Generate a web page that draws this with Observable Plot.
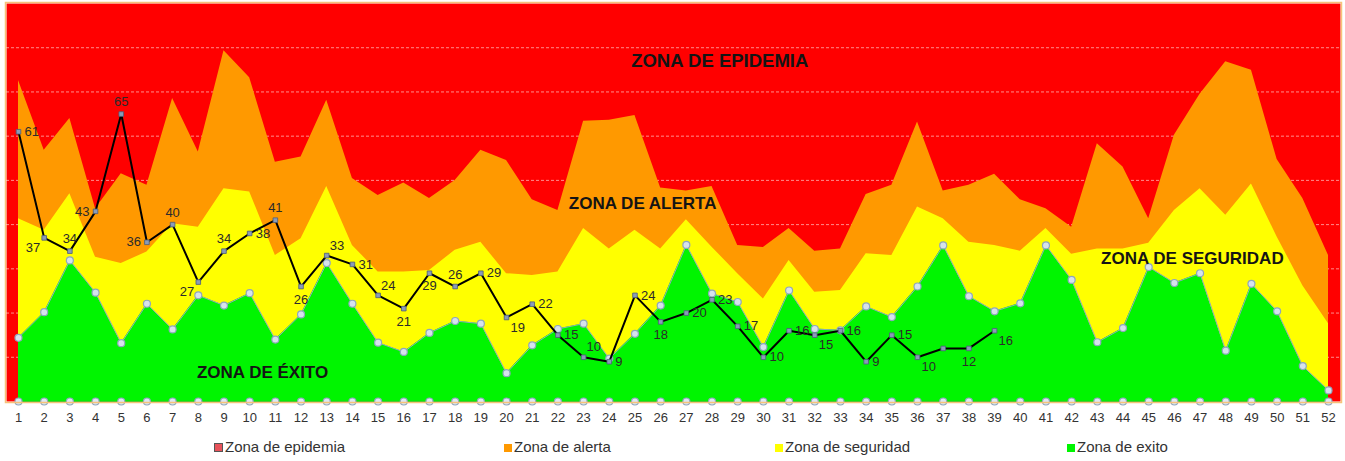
<!DOCTYPE html>
<html>
<head>
<meta charset="utf-8">
<script src="https://cdn.jsdelivr.net/npm/d3@7"></script>
<script src="https://cdn.jsdelivr.net/npm/@observablehq/plot@0.6"></script>
<style>
  html, body { margin: 0; padding: 0; background: #fff; }
  #wrap { position: relative; width: 1345px; height: 461px; font-family: Arial, "Liberation Sans", sans-serif; }
  #legend { position: absolute; left: 0; top: 436px; width: 1345px; height: 22px; font-size: 15px; color: #333; }
  .li { position: absolute; top: 0; line-height: 22px; white-space: nowrap; }
  .sw { display: inline-block; width: 8px; height: 8px; margin-right: 2px; vertical-align: 0px; }
</style>
</head>
<body>
<div id="wrap"><div id="chart"></div><div id="legend"></div></div>
<script>
// ---- data ----
const weeks = [1,2,3,4,5,6,7,8,9,10,11,12,13,14,15,16,17,18,19,20,21,22,23,24,25,26,
               27,28,29,30,31,32,33,34,35,36,37,38,39,40,41,42,43,44,45,46,47,48,49,50,51,52];
// upper limit of each zone (cases)
const zonaExito = [14.4,20.2,31.9,24.6,13.2,22.1,16.3,24.0,21.7,24.5,
                   14.0,19.7,31.3,22.1,13.3,11.2,15.5,18.2,17.6,6.4,
                   12.7,16.4,17.6,9.7,15.3,21.7,35.4,24.4,22.5,12.3,
                   25.1,16.4,16.1,21.5,19.1,26.0,35.3,23.8,20.4,22.2,
                   35.3,27.5,13.4,16.6,30.4,26.8,29.0,11.5,26.6,20.4,
                   8.0,2.5];
const zonaSeguridad = [41.3,38.7,47.0,32.6,31.2,33.8,40.2,39.4,48.1,47.4,
                       33.0,36.8,48.6,35.3,29.3,29.3,29.6,34.2,36.0,28.9,
                       28.5,29.3,39.1,34.5,38.7,34.5,41.1,34.9,28.9,23.2,
                       31.9,24.7,25.1,33.4,33.0,44.0,41.3,36.0,35.3,34.0,
                       39.1,33.3,34.5,34.5,35.8,43.2,48.1,42.1,49.2,37.2,
                       26.2,17.6];
const zonaAlerta = [72.6,56.8,64.0,43.6,51.5,48.9,68.5,56.4,79.3,73.2,
                    54.1,55.3,68.1,50.4,46.6,49.4,45.9,50.0,56.8,54.5,
                    45.6,43.2,63.4,63.6,64.7,48.3,47.6,48.6,35.3,34.8,
                    39.1,34.0,34.5,46.8,48.9,63.2,47.6,48.9,51.4,45.6,
                    43.6,39.4,58.3,53.0,41.3,60.2,69.5,76.8,74.9,54.7,
                    45.9,33.0];
// observed cases, weeks 1-39
const casos = [61,37,34,43,65,36,40,27,34,38,41,26,33,31,24,21,29,26,29,19,
               22,15,10,9,24,18,20,23,17,10,16,15,16,9,15,10,12,12,16];
// where each value label sits relative to its point
const labelSide = ["R","BL","A","L","A","L","A","BL","A","R","A","B","AR","R","AR","B","B","A","R","BR",
                   "R","R","AR","R","R","B","R","R","R","R","R","BR","R","R","R","BR","","B","BR"];
const gridValues = [10,20,30,40,50,60,70,80];
const zoneNames = ["ZONA DE EPIDEMIA","ZONA DE ALERTA","ZONA DE SEGURIDAD","ZONA DE ÉXITO"];
const zoneWeek  = [28.3, 25.3, 46.7, 10.5];
const zoneValue = [76.9, 44.8, 32.4, 6.6];
const legendNames = ["Zona de epidemia","Zona de alerta","Zona de seguridad","Zona de exito"];

// ---- tables ----
const zones = weeks.map((w,i) => ({week: w, exito: zonaExito[i], seguridad: zonaSeguridad[i], alerta: zonaAlerta[i]}));
const obs = casos.map((v,i) => ({week: weeks[i], value: v, side: labelSide[i]}));
const zoneLabels = zoneNames.map((t,i) => ({text: t, week: zoneWeek[i], value: zoneValue[i], main: i === 0}));

const sideOpts = {
  R:  {textAnchor: "start",  dx: 6,  dy: 0},
  L:  {textAnchor: "end",    dx: -6, dy: 0},
  A:  {textAnchor: "middle", dx: 0,  dy: -12},
  B:  {textAnchor: "middle", dx: 0,  dy: 13},
  AR: {textAnchor: "start",  dx: 3,  dy: -10},
  BR: {textAnchor: "start",  dx: 4,  dy: 10},
  BL: {textAnchor: "end",    dx: -4, dy: 10}
};

const FONT = "Arial, 'Liberation Sans', sans-serif";
const RED = "#ff0000", ORANGE = "#ff9900", YELLOW = "#ffff00", GREEN = "#00f500";

const labelMarks = Object.keys(sideOpts).map(k =>
  Plot.text(obs.filter(d => d.side === k), {
    x: "week", y: "value", text: d => String(d.value),
    fill: "#2b2b2b", fontSize: 13, fontFamily: FONT,
    ...sideOpts[k]
  })
);

const chart = Plot.plot({
  width: 1345,
  height: 432,
  marginLeft: 6,
  marginRight: 5,
  marginTop: 3,
  marginBottom: 31,
  style: {background: "#fff", fontFamily: FONT},
  x: {domain: [0.533, 52.467], axis: null, label: null},
  y: {domain: [0, 90], axis: null, label: null},
  marks: [
    Plot.frame({fill: RED, stroke: null}),
    Plot.ruleY(gridValues, {stroke: "#ffffff", strokeOpacity: 0.55, strokeDasharray: "3,2", strokeWidth: 1}),
    Plot.areaY(zones, {x: "week", y1: 0, y2: "alerta", fill: ORANGE, curve: "linear"}),
    Plot.areaY(zones, {x: "week", y1: 0, y2: "seguridad", fill: YELLOW, curve: "linear"}),
    Plot.areaY(zones, {x: "week", y1: 0, y2: "exito", fill: GREEN, curve: "linear"}),
    Plot.lineY(zones, {x: "week", y: "exito", stroke: "#93a9bf", strokeWidth: 1}),
    Plot.ruleY([0], {x1: 1, x2: 52, stroke: "#22c522", strokeWidth: 1.5}),
    Plot.dot(zones, {x: "week", y: "exito", r: 3.5, stroke: "#8fa6bd", strokeWidth: 1.2, fill: "#d6e2ec"}),
    Plot.dot(zones, {x: "week", y: 0, r: 3.5, stroke: "#8fa6bd", strokeWidth: 1.2, fill: "#dde7f0"}),
    Plot.text(zoneLabels.filter(d => d.main), {x: "week", y: "value", text: "text", fontSize: 18.5, fontWeight: "bold", fill: "#141414", fontFamily: FONT}),
    Plot.text(zoneLabels.filter(d => !d.main), {x: "week", y: "value", text: "text", fontSize: 17, fontWeight: "bold", fill: "#141414", fontFamily: FONT}),
    Plot.lineY(obs, {x: "week", y: "value", stroke: "#000", strokeWidth: 2}),
    Plot.dot(obs, {x: "week", y: "value", symbol: "square", r: 2.6, fill: "#8a9bb8", stroke: "#4d5d78", strokeWidth: 0.8}),
    ...labelMarks,
    Plot.axisX(weeks, {y: 0, tickSize: 0, tickPadding: 11, fontSize: 13, fill: "#333", label: null, tickFormat: d => String(d)}),
    Plot.frame({stroke: "#f6c27a", strokeWidth: 1.5, inset: -1})
  ]
});
document.getElementById("chart").appendChild(chart);

// ---- legend ----
const legendColors = ["#e8525a", ORANGE, YELLOW, GREEN];
const legendLeft = [214, 504, 775, 1067];
const legend = document.getElementById("legend");
legendNames.forEach((n, i) => {
  const item = document.createElement("div");
  item.className = "li";
  item.style.left = legendLeft[i] + "px";
  const sw = document.createElement("span");
  sw.className = "sw";
  sw.style.background = legendColors[i];
  if (i === 0) { sw.style.border = "1px solid #555"; sw.style.width = "7px"; sw.style.height = "7px"; }
  item.appendChild(sw);
  item.appendChild(document.createTextNode(n));
  legend.appendChild(item);
});
</script>
</body>
</html>
